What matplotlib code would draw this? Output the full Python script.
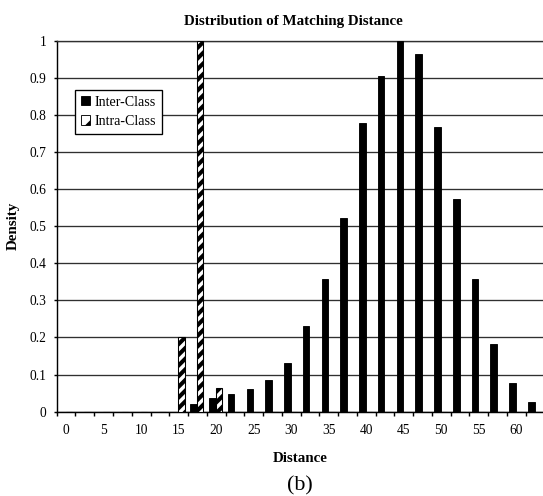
import numpy as np
import matplotlib
matplotlib.use("Agg")
import matplotlib.pyplot as plt
from matplotlib.patches import Patch

# ---- data ----
distance = [0, 2.5, 5, 7.5, 10, 12.5, 15, 17.5, 20, 22.5, 25, 27.5, 30, 32.5,
            35, 37.5, 40, 42.5, 45, 47.5, 50, 52.5, 55, 57.5, 60, 62.5]
inter_class = [0, 0, 0, 0, 0, 0, 0, 0.021, 0.037, 0.048, 0.061, 0.085, 0.131,
               0.231, 0.357, 0.522, 0.778, 0.905, 1.0, 0.964, 0.767, 0.573,
               0.357, 0.182, 0.077, 0.027]
intra_class = [0, 0, 0, 0, 0, 0, 0.2, 1.0, 0.064, 0, 0, 0, 0, 0,
               0, 0, 0, 0, 0, 0, 0, 0, 0, 0, 0, 0]
xtick_labels = ["0", "5", "10", "15", "20", "25", "30", "35", "40", "45",
                "50", "55", "60"]
ytick_values = [0, 0.1, 0.2, 0.3, 0.4, 0.5, 0.6, 0.7, 0.8, 0.9, 1.0]
ytick_labels = ["0", "0.1", "0.2", "0.3", "0.4", "0.5", "0.6", "0.7", "0.8",
                "0.9", "1"]

DPI = 128
W, H = 543, 496
PT = 72.0 / DPI  # points per pixel

plt.rcParams['font.family'] = ['Liberation Serif', 'DejaVu Serif']
plt.rcParams['hatch.linewidth'] = 2.3
plt.rcParams['hatch.color'] = 'black'

fig = plt.figure(figsize=(W / DPI, H / DPI), dpi=DPI)
fig.patch.set_facecolor('white')

left_px, right_px, top_px, bot_px = 56.7, 544.5, 40.7, 411.7
ax = fig.add_axes([left_px / W, 1 - bot_px / H,
                   (right_px - left_px) / W, (bot_px - top_px) / H])

idx = np.arange(len(distance))
bw = 0.35
shift = -0.03
ax.bar(idx + shift - bw / 2, inter_class, width=bw, color='black',
       edgecolor='black', linewidth=0.5, zorder=3)
ax.bar(idx + shift + bw / 2, intra_class, width=bw, color='white',
       edgecolor='black', hatch='////', linewidth=0.6, zorder=3)

ax.set_xlim(-0.5, len(distance) - 0.5)
ax.set_ylim(0, 1)

# grid
ax.set_axisbelow(True)
ax.yaxis.grid(True, color='#303030', linewidth=0.75)
ax.xaxis.grid(False)

ax.spines['right'].set_visible(False)
ax.spines['top'].set_color('#303030')
ax.spines['top'].set_linewidth(0.75)
ax.spines['left'].set_color('black')
ax.spines['left'].set_linewidth(0.8)
ax.spines['bottom'].set_color('black')
ax.spines['bottom'].set_linewidth(0.8)

# x ticks: marks at category boundaries, labels at every other category
ax.set_xticks(np.arange(-0.5, len(distance) + 0.5, 1.0))
ax.tick_params(axis='x', which='major', direction='out', length=3.5 * PT,
               width=0.8, labelbottom=False, color='black')
ax.set_xticks(idx[::2][:len(xtick_labels)], minor=True)
ax.set_xticklabels(xtick_labels, minor=True)
ax.tick_params(axis='x', which='minor', length=0, pad=12.5 * PT,
               labelsize=13.5 * PT)

ax.set_yticks(ytick_values)
ax.set_yticklabels(ytick_labels)
ax.tick_params(axis='y', which='major', direction='out', length=3.5 * PT,
               width=0.8, pad=6.5 * PT, labelsize=13.5 * PT)

# texts
fig.text(293.8 / W, 1 - 21 / H, "Distribution of Matching Distance",
         ha='center', va='center', fontsize=15 * PT, fontweight='bold')
fig.text(300 / W, 1 - 458 / H, "Distance", ha='center', va='center',
         fontsize=15 * PT, fontweight='bold')
fig.text(13.5 / W, 1 - 226 / H, "Density", ha='center', va='center',
         rotation=90, fontsize=15 * PT, fontweight='bold')
fig.text(300 / W, 1 - 485.5 / H, "(b)", ha='center', va='center',
         fontsize=22 * PT)

# legend
handles = [Patch(facecolor='black', edgecolor='black', linewidth=0.5),
           Patch(facecolor='white', edgecolor='black', hatch='//',
                 linewidth=0.5)]
leg = ax.legend(handles, ["Inter-Class", "Intra-Class"], loc='upper left',
                bbox_to_anchor=(75 / W, 1 - 90 / H),
                bbox_transform=fig.transFigure, borderaxespad=0,
                fontsize=14 * PT, frameon=True, fancybox=False,
                handlelength=0.65, handleheight=0.65, handletextpad=0.38,
                labelspacing=0.45, borderpad=0.4)
leg.get_frame().set_edgecolor('black')
leg.get_frame().set_linewidth(0.75)
leg.get_frame().set_facecolor('white')
leg.get_frame().set_alpha(1)
leg.set_zorder(5)

fig.savefig("out.png", dpi=DPI, facecolor='white')
